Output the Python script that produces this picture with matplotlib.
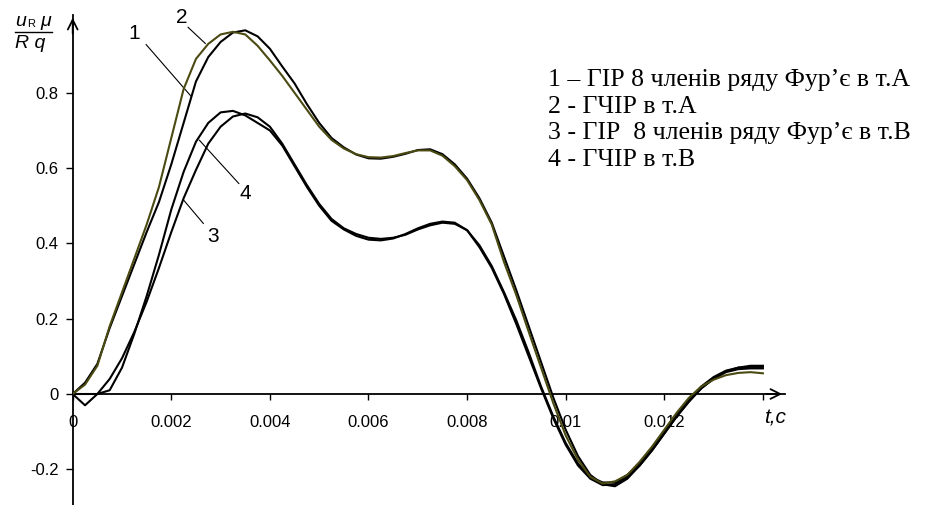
import numpy as np
import matplotlib
matplotlib.use("Agg")
import matplotlib.pyplot as plt
from matplotlib.lines import Line2D

# час, с
t = np.arange(57) * 0.00025

# 1 - ГІР, 8 членів ряду Фур'є, т.А
u1 = [0, 0.03, 0.08, 0.175, 0.26, 0.345, 0.43, 0.51, 0.61, 0.72,
      0.83, 0.895, 0.935, 0.96, 0.966, 0.95, 0.917, 0.87, 0.825, 0.77,
      0.72, 0.68, 0.655, 0.636, 0.626, 0.625, 0.63, 0.638, 0.648, 0.65,
      0.637, 0.61, 0.572, 0.52, 0.455, 0.365, 0.275, 0.18, 0.085, -0.01,
      -0.095, -0.165, -0.215, -0.24, -0.245, -0.225, -0.19, -0.15, -0.105, -0.06,
      -0.02, 0.015, 0.042, 0.06, 0.07, 0.075, 0.075]
# 2 - ГЧІР, т.А
u2 = [0, 0.025, 0.075, 0.18, 0.27, 0.36, 0.45, 0.55, 0.68, 0.81,
      0.89, 0.93, 0.955, 0.962, 0.955, 0.925, 0.886, 0.845, 0.8, 0.755,
      0.71, 0.675, 0.652, 0.637, 0.629, 0.628, 0.632, 0.64, 0.647, 0.647,
      0.633, 0.605, 0.568, 0.515, 0.45, 0.35, 0.262, 0.165, 0.07, -0.025,
      -0.11, -0.175, -0.22, -0.238, -0.232, -0.215, -0.18, -0.14, -0.095, -0.05,
      -0.01, 0.02, 0.038, 0.05, 0.056, 0.058, 0.055]
# 3 - ГІР, 8 членів ряду Фур'є, т.В
u3 = [0, -0.03, 0.0, 0.04, 0.095, 0.165, 0.245, 0.335, 0.43, 0.52,
      0.595, 0.665, 0.71, 0.737, 0.745, 0.735, 0.71, 0.665, 0.61, 0.555,
      0.505, 0.465, 0.44, 0.425, 0.415, 0.412, 0.415, 0.423, 0.437, 0.448,
      0.455, 0.452, 0.435, 0.395, 0.34, 0.27, 0.195, 0.11, 0.02, -0.06,
      -0.13, -0.185, -0.22, -0.235, -0.235, -0.215, -0.185, -0.145, -0.1, -0.055,
      -0.015, 0.02, 0.045, 0.062, 0.07, 0.072, 0.072]
# 4 - ГЧІР, т.В
u4 = [0, 0, 0, 0.01, 0.07, 0.16, 0.26, 0.37, 0.49, 0.59,
      0.67, 0.72, 0.748, 0.752, 0.74, 0.72, 0.70, 0.66, 0.605, 0.55,
      0.5, 0.46, 0.437, 0.42, 0.41, 0.408, 0.413, 0.425, 0.44, 0.452,
      0.458, 0.455, 0.435, 0.39, 0.335, 0.265, 0.185, 0.1, 0.015, -0.065,
      -0.135, -0.19, -0.225, -0.242, -0.24, -0.22, -0.19, -0.15, -0.105, -0.06,
      -0.02, 0.015, 0.04, 0.058, 0.066, 0.068, 0.068]

xticks = [0, 0.002, 0.004, 0.006, 0.008, 0.01, 0.012, 0.014]
xtick_labels = ["0", "0.002", "0.004", "0.006", "0.008", "0.01", "0.012", ""]
yticks = [-0.2, 0, 0.2, 0.4, 0.6, 0.8]
ytick_labels = ["-0.2", "0", "0.2", "0.4", "0.6", "0.8"]

legend_lines = ["1 \u2013 ГІР 8 членів ряду Фур\u2019є в т.А",
                "2 - ГЧІР в т.А",
                "3 - ГІР  8 членів ряду Фур\u2019є в т.В",
                "4 - ГЧІР в т.В"]

plt.rcParams["font.family"] = ["Liberation Sans", "DejaVu Sans"]

fig = plt.figure(figsize=(9.31, 5.05), dpi=100)
ax = fig.add_axes([72.7 / 931, 0, (785 - 72.7) / 931, 490 / 505])
xmax = (785 - 72.7) / 49300
ax.set_xlim(0, xmax)
ax.set_ylim(-111 / 376.5, 379 / 376.5)

for s in ("top", "right"):
    ax.spines[s].set_visible(False)
ax.spines["bottom"].set_position(("data", 0))
ax.spines["left"].set_linewidth(1.3)
ax.spines["bottom"].set_linewidth(1.3)

ax.set_xticks(xticks)
ax.set_xticklabels(xtick_labels)
ax.set_yticks(yticks)
ax.set_yticklabels(ytick_labels)
ax.tick_params(axis="x", direction="out", length=4, width=1, pad=11, labelsize=12)
ax.tick_params(axis="y", direction="out", length=5, width=1, pad=5, labelsize=12)

# стрілки на осях
arr = dict(arrowstyle="->,head_length=0.7,head_width=0.35", lw=1.3, color="black")
ax.annotate("", xy=(xmax, 0), xytext=(xmax * 0.97, 0), arrowprops=arr, annotation_clip=False)
ax.annotate("", xy=(0, ax.get_ylim()[1]), xytext=(0, 0.95), arrowprops=arr, annotation_clip=False)

ax.plot(t, u1, color="black", lw=1.5, zorder=4)
ax.plot(t, u2, color="#4a4a12", lw=1.5, zorder=5)
ax.plot(t, u3, color="black", lw=1.5, zorder=4)
ax.plot(t, u4, color="black", lw=1.5, zorder=4)

# номери кривих з виносками
ax.text(0.00125, 0.958, "1", fontsize=15, ha="center", va="center")
ax.plot([0.00149, 0.0024], [0.928, 0.791], color="black", lw=0.8)
ax.text(0.00221, 1.0, "2", fontsize=15, ha="center", va="center")
ax.plot([0.00234, 0.00269], [0.974, 0.931], color="black", lw=0.8)
ax.text(0.00285, 0.417, "3", fontsize=15, ha="center", va="center")
ax.plot([0.00225, 0.00265], [0.515, 0.453], color="black", lw=0.8)
ax.text(0.0035, 0.533, "4", fontsize=15, ha="center", va="center")
ax.plot([0.00257, 0.00337], [0.674, 0.559], color="black", lw=0.8)

# легенда
for i, line in enumerate(legend_lines):
    fig.text(548 / 931, 1 - (80 + i * 26.7) / 505, line, fontsize=18.5,
             family=["Liberation Serif", "DejaVu Serif"], ha="left", va="center")

# підпис осі t
fig.text(775 / 931, 1 - 418 / 505, "t,c", fontsize=15, style="italic",
         ha="center", va="center")

# підпис осі u: дріб
fig.text(15 / 931, 1 - 21 / 505, "u", fontsize=14, style="italic", ha="left", va="center")
fig.text(27.5 / 931, 1 - 24 / 505, "R", fontsize=8, ha="left", va="center")
fig.text(40 / 931, 1 - 21 / 505, "\u03bc", fontsize=14, style="italic", ha="left", va="center")
fig.add_artist(Line2D([15 / 931, 52 / 931], [1 - 32 / 505, 1 - 32 / 505],
                      color="black", lw=1))
fig.text(15 / 931, 1 - 43 / 505, "R q", fontsize=14, style="italic", ha="left", va="center")

fig.savefig("out.png", dpi=100)
